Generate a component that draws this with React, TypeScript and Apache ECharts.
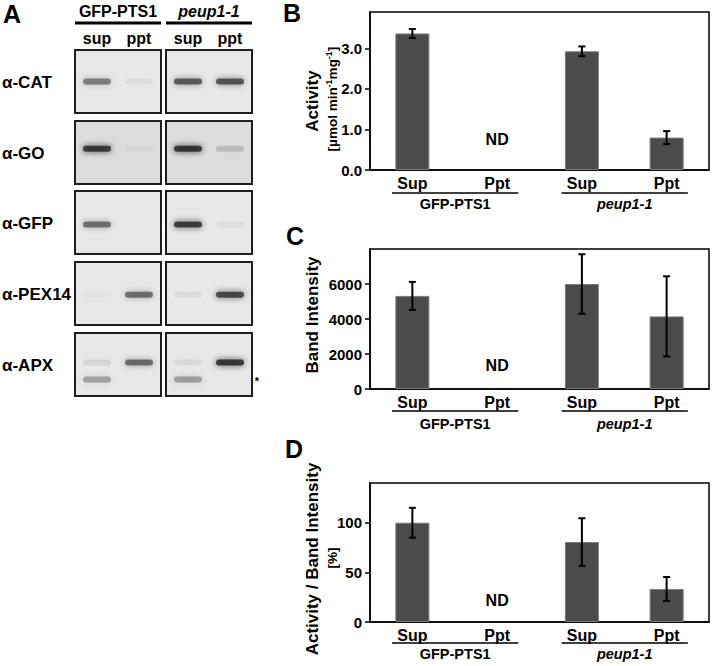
import React, { useEffect, useRef } from 'react';
import * as echarts from 'echarts';

// ---------- Panels B–D data ----------
const categories = ['Sup', 'Ppt', 'Sup', 'Ppt'];
const groupNames = ['GFP-PTS1', 'peup1-1'];
const groupStart = [0, 2];
const groupEnd = [1, 3];
const ndIndex = 1;

const activity = [3.37, null, 2.93, 0.8];
const activityErr = [0.11, null, 0.12, 0.16];
const activityTicks = [0, 1, 2, 3];

const bandIntensity = [5320, null, 6000, 4150];
const bandIntensityErr = [800, null, 1700, 2290];
const bandIntensityTicks = [0, 2000, 4000, 6000];

const ratio = [100, null, 80.5, 33.3];
const ratioErr = [15, null, 24, 12];
const ratioTicks = [0, 50, 100];

// ---------- Panel A (western blots) ----------
const blotAntibodies = ['α-CAT', 'α-GO', 'α-GFP', 'α-PEX14', 'α-APX'];
const laneNames = ['sup', 'ppt', 'sup', 'ppt'];
const blotGroups = ['GFP-PTS1', 'peup1-1'];
// band darkness per row, lanes: GFP sup, GFP ppt, peup sup, peup ppt
const bandDarkness = [
  [0.55, 0.06, 0.72, 0.75],
  [0.92, 0.04, 0.95, 0.16],
  [0.62, 0.0, 0.92, 0.05],
  [0.03, 0.62, 0.06, 0.85],
  [0.1, 0.64, 0.08, 0.95],
];
const apxLowerBand = [0.38, 0.0, 0.4, 0.0];

const FONT = '"Liberation Sans", Arial, Helvetica, sans-serif';

function buildBlots(): any[] {
  const els: any[] = [];
  const boxX = [75, 166];
  const boxW = 86;
  const boxH = 63;
  const rowY = [50, 121, 191, 262, 333];
  const laneOff = [22, 64];
  const bandPos = [0.5, 0.44, 0.53, 0.52, 0.47];
  const lowerPos = 0.74;
  const bandW = 28;

  blotGroups.forEach((g, gi) => {
    const x0 = boxX[gi];
    els.push({
      type: 'text',
      x: x0 + boxW / 2,
      y: 11,
      style: {
        text: g,
        align: 'center',
        verticalAlign: 'middle',
        font: `${gi === 1 ? 'italic ' : ''}bold 16px ${FONT}`,
        fill: '#000',
      },
    });
    els.push({
      type: 'line',
      shape: { x1: x0, y1: 23, x2: x0 + boxW, y2: 23 },
      style: { stroke: '#000', lineWidth: 3 },
    });
  });
  laneNames.forEach((ln, li) => {
    const gi = Math.floor(li / 2);
    els.push({
      type: 'text',
      x: boxX[gi] + laneOff[li % 2],
      y: 38,
      style: { text: ln, align: 'center', verticalAlign: 'middle', font: `bold 16px ${FONT}`, fill: '#000' },
    });
  });

  const band = (cx: number, cy: number, d: number) => {
    if (d <= 0) return;
    const a = Math.min(1, d);
    const col = `rgba(25,25,25,${(a * 0.8).toFixed(3)})`;
    els.push({
      type: 'rect',
      shape: { x: cx - bandW / 2, y: cy - 3, width: bandW, height: 6, r: 3 },
      style: {
        fill: col,
        shadowBlur: 6,
        shadowColor: `rgba(25,25,25,${a.toFixed(3)})`,
      },
    });
  };

  blotAntibodies.forEach((ab, ri) => {
    const y0 = rowY[ri];
    els.push({
      type: 'text',
      x: 2,
      y: y0 + boxH / 2 + 1,
      style: { text: ab, align: 'left', verticalAlign: 'middle', font: `bold 17px ${FONT}`, fill: '#000' },
    });
    for (let gi = 0; gi < 2; gi++) {
      els.push({
        type: 'rect',
        shape: { x: boxX[gi], y: y0, width: boxW, height: boxH },
        style: { fill: ri === 1 ? '#dcdcdc' : '#e8e8e8', stroke: '#1e1e1e', lineWidth: 2 },
      });
      for (let l = 0; l < 2; l++) {
        const li = gi * 2 + l;
        const cx = boxX[gi] + laneOff[l];
        band(cx, y0 + boxH * bandPos[ri], bandDarkness[ri][li]);
        if (ri === 4) band(cx, y0 + boxH * lowerPos, apxLowerBand[li]);
      }
    }
  });
  els.push({
    type: 'text',
    x: 257,
    y: 381,
    style: { text: '*', align: 'center', verticalAlign: 'middle', font: `bold 11px ${FONT}`, fill: '#000' },
  });
  return els;
}

export default function App() {
  const ref = useRef<HTMLDivElement>(null);

  useEffect(() => {
    if (!ref.current) return;
    const chart = echarts.init(ref.current, undefined, { renderer: 'svg' });

    const panels = [
      { data: activity, err: activityErr, ticks: activityTicks, max: 3.9, interval: 1, fmt: (v: number) => v.toFixed(1), top: 12, height: 158, nd: 31, ul: 23, gl: 34 },
      { data: bandIntensity, err: bandIntensityErr, ticks: bandIntensityTicks, max: 8000, interval: 2000, fmt: (v: number) => String(v), top: 249, height: 140, nd: 24, ul: 22, gl: 35 },
      { data: ratio, err: ratioErr, ticks: ratioTicks, max: 140, interval: 50, fmt: (v: number) => String(v), top: 483, height: 139, nd: 22, ul: 21, gl: 32 },
    ];

    const grid: any[] = [];
    const xAxis: any[] = [];
    const yAxis: any[] = [];
    const series: any[] = [];

    panels.forEach((p, i) => {
      grid.push({ left: 370, top: p.top, width: 339, height: p.height, show: true, borderColor: '#000', borderWidth: 1.5, backgroundColor: 'transparent' });
      xAxis.push({
        type: 'category',
        gridIndex: i,
        data: categories,
        axisTick: { show: false },
        axisLine: { lineStyle: { color: '#000', width: 1.5 } },
        axisLabel: { color: '#000', fontSize: 16, fontWeight: 'bold', fontFamily: FONT, margin: 5 },
        splitLine: { show: false },
      });
      yAxis.push({
        type: 'value',
        gridIndex: i,
        min: 0,
        max: p.max,
        interval: p.interval,
        splitLine: { show: false },
        axisLine: { show: true, lineStyle: { color: '#000', width: 1.5 } },
        axisTick: { show: true, length: 5, lineStyle: { color: '#000', width: 1.5 }, customValues: p.ticks },
        axisLabel: { color: '#000', fontSize: 15, fontWeight: 'bold', fontFamily: FONT, margin: 8, formatter: p.fmt, customValues: p.ticks },
      });
      series.push({
        type: 'bar',
        xAxisIndex: i,
        yAxisIndex: i,
        z: 2,
        data: p.data.map((v) => (v == null ? '-' : v)),
        barWidth: 34,
        itemStyle: { color: '#4b4b4b', borderColor: '#7a7a7a', borderWidth: 1 },
        silent: true,
      });
      // error bars
      series.push({
        type: 'custom',
        xAxisIndex: i,
        yAxisIndex: i,
        z: 10,
        clip: false,
        silent: true,
        data: p.data.map((v, k) => (v == null ? null : [k, v, p.err[k] as number])).filter((d) => d != null),
        renderItem: (params: any, api: any) => {
          const x = api.value(0);
          const v = api.value(1);
          const e = api.value(2);
          const hi = api.coord([x, v + e]);
          const lo = api.coord([x, v - e]);
          const cap = 3.5;
          const st = { stroke: '#000', lineWidth: 2 };
          return {
            type: 'group',
            children: [
              { type: 'line', shape: { x1: hi[0], y1: hi[1], x2: lo[0], y2: lo[1] }, style: st },
              { type: 'line', shape: { x1: hi[0] - cap, y1: hi[1], x2: hi[0] + cap, y2: hi[1] }, style: st },
              { type: 'line', shape: { x1: lo[0] - cap, y1: lo[1], x2: lo[0] + cap, y2: lo[1] }, style: st },
            ],
          };
        },
      });
      // "ND" (not detected) marker
      series.push({
        type: 'custom',
        xAxisIndex: i,
        yAxisIndex: i,
        z: 10,
        clip: false,
        silent: true,
        data: [[ndIndex, 0]],
        renderItem: (params: any, api: any) => {
          const pt = api.coord([api.value(0), 0]);
          return {
            type: 'text',
            x: pt[0],
            y: pt[1] - p.nd,
            style: { text: 'ND', align: 'center', verticalAlign: 'middle', font: `bold 16px ${FONT}`, fill: '#000' },
          };
        },
      });
      // group brackets
      series.push({
        type: 'custom',
        xAxisIndex: i,
        yAxisIndex: i,
        z: 10,
        clip: false,
        silent: true,
        data: groupNames.map((_, g) => [groupStart[g], groupEnd[g]]),
        renderItem: (params: any, api: any) => {
          const cs = params.coordSys;
          const bw = cs.width / categories.length;
          const s = api.coord([api.value(0), 0]);
          const e = api.coord([api.value(1), 0]);
          const yb = cs.y + cs.height;
          const x1 = s[0] - 0.24 * bw;
          const x2 = e[0] + 0.25 * bw;
          const gi = params.dataIndex;
          return {
            type: 'group',
            children: [
              { type: 'line', shape: { x1, y1: yb + p.ul, x2, y2: yb + p.ul }, style: { stroke: '#000', lineWidth: 1.5 } },
              {
                type: 'text',
                x: (x1 + x2) / 2,
                y: yb + p.gl,
                style: {
                  text: groupNames[gi],
                  align: 'center',
                  verticalAlign: 'middle',
                  font: `${gi === 1 ? 'italic ' : ''}bold 14.5px ${FONT}`,
                  fill: '#000',
                },
              },
            ],
          };
        },
      });
    });

    const titleFont = `bold 17px ${FONT}`;
    const graphic: any[] = [
      ...buildBlots(),
      { type: 'text', x: 3, y: 14, style: { text: 'A', verticalAlign: 'middle', font: `bold 25px ${FONT}`, fill: '#000' } },
      { type: 'text', x: 283, y: 13, style: { text: 'B', verticalAlign: 'middle', font: `bold 25px ${FONT}`, fill: '#000' } },
      { type: 'text', x: 286, y: 236, style: { text: 'C', verticalAlign: 'middle', font: `bold 25px ${FONT}`, fill: '#000' } },
      { type: 'text', x: 285, y: 449, style: { text: 'D', verticalAlign: 'middle', font: `bold 25px ${FONT}`, fill: '#000' } },
      { type: 'text', x: 312, y: 101, rotation: Math.PI / 2, style: { text: 'Activity', align: 'center', verticalAlign: 'middle', font: titleFont, fill: '#000' } },
      {
        type: 'text',
        x: 332,
        y: 99,
        rotation: Math.PI / 2,
        style: {
          text: '{s|[µmol min}{p|-1}{s|mg}{p|-1}{s|]}',
          align: 'center',
          verticalAlign: 'middle',
          fill: '#000',
          rich: {
            s: { fontSize: 13.5, fontWeight: 'bold', fontFamily: FONT, lineHeight: 15, verticalAlign: 'bottom' },
            p: { fontSize: 9, fontWeight: 'bold', fontFamily: FONT, lineHeight: 15, verticalAlign: 'top' },
          },
        },
      },
      { type: 'text', x: 312, y: 315, rotation: Math.PI / 2, style: { text: 'Band Intensity', align: 'center', verticalAlign: 'middle', font: titleFont, fill: '#000' } },
      { type: 'text', x: 312, y: 559, rotation: Math.PI / 2, style: { text: 'Activity / Band Intensity', align: 'center', verticalAlign: 'middle', font: titleFont, fill: '#000' } },
      { type: 'text', x: 332, y: 558, rotation: Math.PI / 2, style: { text: '[%]', align: 'center', verticalAlign: 'middle', font: `bold 13.5px ${FONT}`, fill: '#000' } },
    ];

    chart.setOption({
      animation: false,
      backgroundColor: '#fff',
      grid,
      xAxis,
      yAxis,
      series,
      graphic,
    });

    return () => chart.dispose();
  }, []);

  return <div ref={ref} style={{ position: 'absolute', left: 0, top: 0, width: 714, height: 666 }} />;
}
